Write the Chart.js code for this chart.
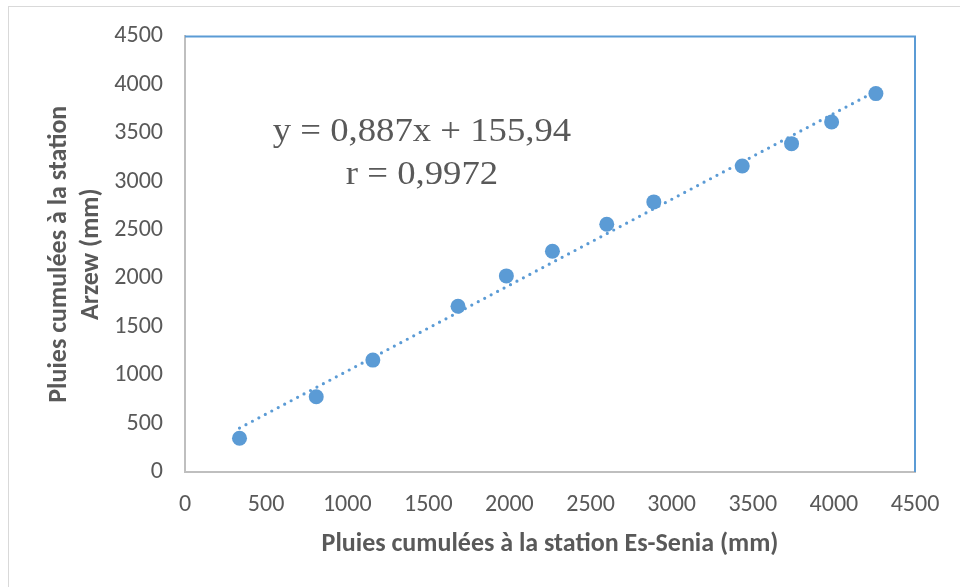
<!DOCTYPE html>
<html>
<head>
<meta charset="utf-8">
<script src="https://cdn.jsdelivr.net/npm/chart.js@4/dist/chart.umd.min.js"></script>
<style>
  html, body { margin: 0; padding: 0; background: #fff; }
  #wrap { width: 960px; height: 587px; }
</style>
</head>
<body>
<div id="wrap"><canvas id="c" width="960" height="587"></canvas></div>
<script>
// cumulative rainfall, Es-Senia (x) vs Arzew (y), mm
const esSenia = [336, 809, 1158, 1683, 1981, 2265, 2600, 2890, 3435, 3739, 3986, 4259];
const arzew   = [348, 777, 1156, 1713, 2026, 2281, 2560, 2790, 3161, 3392, 3615, 3909];
const axisTicks = [0, 500, 1000, 1500, 2000, 2500, 3000, 3500, 4000, 4500];

// regression shown on the chart
const slope = 0.887;
const intercept = 155.94;
const eqLines = ["y = 0,887x + 155,94", "r = 0,9972"];

const blue = "#5b9bd5";
const grey = "#595959";
const sans = "Carlito, Calibri, Lato, sans-serif";

const points = esSenia.map((x, i) => ({ x: x, y: arzew[i] }));
const xMin = Math.min(...esSenia), xMax = Math.max(...esSenia);
const trend = [
  { x: xMin, y: slope * xMin + intercept },
  { x: xMax, y: slope * xMax + intercept }
];

const frame = {
  id: "frame",
  beforeDraw(chart) {
    const ctx = chart.ctx;
    ctx.save();
    ctx.strokeStyle = "#d9d9d9";
    ctx.lineWidth = 1;
    ctx.strokeRect(8.5, 6.5, 970, 600);
    ctx.restore();
  },
  afterDatasetsDraw(chart) {
    const { ctx, chartArea: a } = chart;
    ctx.save();
    ctx.strokeStyle = blue;
    ctx.lineWidth = 2;
    ctx.beginPath();
    ctx.moveTo(a.left, a.top);
    ctx.lineTo(a.right, a.top);
    ctx.lineTo(a.right, a.bottom);
    ctx.stroke();

    // equation text, slightly wide like the original
    ctx.fillStyle = grey;
    ctx.font = "34px 'Liberation Serif', 'Times New Roman', serif";
    ctx.textAlign = "center";
    ctx.textBaseline = "middle";
    const cx = a.left + 237;
    ctx.translate(cx, 0);
    ctx.scale(1.08, 1);
    ctx.fillText(eqLines[0], 0, 132);
    ctx.fillText(eqLines[1], 0, 175);
    ctx.restore();
  }
};

new Chart(document.getElementById("c"), {
  type: "scatter",
  data: {
    datasets: [
      {
        label: "Pluies",
        data: points,
        backgroundColor: blue,
        borderColor: blue,
        pointRadius: 7.5,
        pointHoverRadius: 7.5,
        borderWidth: 0
      },
      {
        type: "line",
        label: "Tendance",
        data: trend,
        borderColor: blue,
        borderWidth: 3.2,
        borderDash: [0, 7.3],
        borderCapStyle: "round",
        pointRadius: 0,
        fill: false,
        tension: 0
      }
    ]
  },
  options: {
    responsive: false,
    animation: false,
    events: [],
    layout: { padding: { left: 0, top: 36, right: 45, bottom: 0 } },
    plugins: {
      legend: { display: false },
      tooltip: { enabled: false }
    },
    scales: {
      x: {
        type: "linear",
        min: axisTicks[0],
        max: axisTicks[axisTicks.length - 1],
        afterBuildTicks: s => { s.ticks = axisTicks.map(v => ({ value: v })); },
        afterFit: s => { s.height = 115; },
        grid: { display: false, drawTicks: false },
        border: { display: true, color: "#bfbfbf", width: 2 },
        ticks: { color: grey, font: { family: sans, size: 24 }, padding: 19, maxRotation: 0, callback: v => String(v) },
        title: {
          display: true,
          text: "Pluies cumulées à la station Es-Senia (mm)",
          color: grey,
          font: { family: sans, size: 26, weight: "bold" },
          padding: { top: 0, bottom: 27 }
        }
      },
      y: {
        type: "linear",
        min: axisTicks[0],
        max: axisTicks[axisTicks.length - 1],
        afterBuildTicks: s => { s.ticks = axisTicks.map(v => ({ value: v })); },
        afterFit: s => { s.width = 185; },
        grid: { display: false, drawTicks: false },
        border: { display: true, color: "#bfbfbf", width: 2 },
        ticks: { color: grey, font: { family: sans, size: 24 }, padding: 22, callback: v => String(v) },
        title: {
          display: true,
          text: ["Pluies cumulées à la station", "Arzew (mm)"],
          color: grey,
          font: { family: sans, size: 26, weight: "bold", lineHeight: 1.23 },
          padding: { top: 44, bottom: 0 }
        }
      }
    }
  },
  plugins: [frame]
});
</script>
</body>
</html>
